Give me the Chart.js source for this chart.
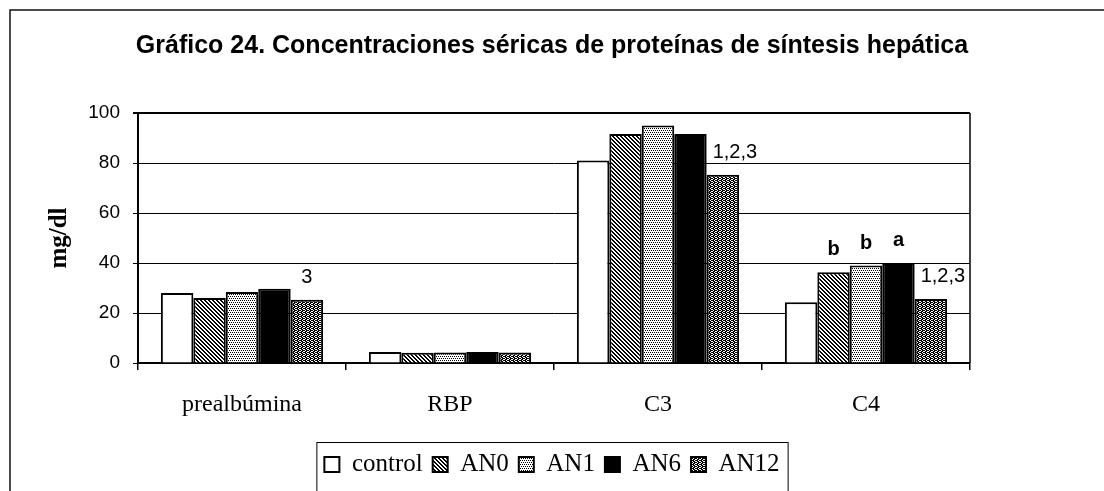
<!DOCTYPE html>
<html>
<head>
<meta charset="utf-8">
<script src="https://cdn.jsdelivr.net/npm/chart.js@4"></script>
<style>
  html, body { margin: 0; padding: 0; background: #fff; }
  canvas { display: block; }
</style>
</head>
<body>
<canvas id="proteinChart" width="1104" height="491"></canvas>
<script>
// categories and series
const categories = ["prealbúmina", "RBP", "C3", "C4"];
const seriesNames = ["control", "AN0", "AN1", "AN6", "AN12"];

// mg/dl per group
const controlValues = [28, 4.4, 81, 24.3];
const an0Values = [26, 4.1, 91.6, 36.3];
const an1Values = [28.4, 4.2, 95, 39];
const an6Values = [29.7, 4.4, 91.6, 40];
const an12Values = [25.3, 4.2, 75.3, 25.6];

// significance marks above the bars
const controlNotes = ["", "", "", ""];
const an0Notes = ["", "", "", "b"];
const an1Notes = ["", "", "", "b"];
const an6Notes = ["", "", "", "a"];
const an12Notes = ["3", "", "1,2,3", "1,2,3"];

const yTicks = [0, 20, 40, 60, 80, 100];

// fill patterns (1 = black pixel)
function makePattern(rows) {
  const c = document.createElement("canvas");
  c.width = rows[0].length;
  c.height = rows.length;
  const g = c.getContext("2d");
  g.fillStyle = "#fff";
  g.fillRect(0, 0, c.width, c.height);
  g.fillStyle = "#000";
  rows.forEach((row, y) => {
    for (let x = 0; x < row.length; x++) {
      if (row[x] === "1") g.fillRect(x, y, 1, 1);
    }
  });
  return g.createPattern(c, "repeat");
}

const hatch = makePattern(["1100", "0110", "0011", "1001"]);
const lightDots = makePattern(["1010", "0000", "0101", "0000"]);
const denseWeave = makePattern(["1101", "0110", "1011", "0110"]);

const fills = ["#ffffff", hatch, lightDots, "#000000", denseWeave];
const values = [controlValues, an0Values, an1Values, an6Values, an12Values];
const notes = [controlNotes, an0Notes, an1Notes, an6Notes, an12Notes];

// white page with the scanned frame on the left and top
const framePlugin = {
  id: "frame",
  beforeDraw(chart) {
    const c = chart.ctx;
    c.save();
    c.fillStyle = "#fff";
    c.fillRect(0, 0, chart.width, chart.height);
    c.strokeStyle = "#111";
    c.lineWidth = 1.5;
    c.beginPath();
    c.moveTo(10, chart.height);
    c.lineTo(10, 10);
    c.lineTo(chart.width, 10);
    c.stroke();
    c.restore();
  },
  afterDraw(chart) {
    const c = chart.ctx;
    const a = chart.chartArea;
    c.save();
    c.strokeStyle = "#000";
    c.lineWidth = 1.5;
    c.beginPath();
    c.moveTo(a.right, a.top);
    c.lineTo(a.right, a.bottom);
    c.stroke();

    // box round the legend
    const boxes = chart.legend.legendHitBoxes;
    if (boxes && boxes.length) {
      const first = boxes[0];
      const last = boxes[boxes.length - 1];
      const left = first.left - 8;
      const right = last.left + last.width + 8;
      const top = first.top - 10;
      c.lineWidth = 1;
      c.strokeRect(left + 0.5, top + 0.5, right - left, chart.height - top + 5);
    }
    c.restore();
  },
};

// letters above bars in bold, group numbers in plain type
const notesPlugin = {
  id: "barNotes",
  afterDatasetsDraw(chart) {
    const c = chart.ctx;
    c.save();
    c.fillStyle = "#000";
    c.textBaseline = "alphabetic";
    chart.data.datasets.forEach((ds, di) => {
      const meta = chart.getDatasetMeta(di);
      meta.data.forEach((bar, i) => {
        const text = ds.notes[i];
        if (!text) return;
        const isLetter = /^[a-z]$/.test(text);
        c.font = (isLetter ? "bold " : "") + "20px 'Liberation Sans', Arial, sans-serif";
        if (text.length > 1) {
          c.textAlign = "left";
          c.fillText(text, bar.x - bar.width / 2 + 6, bar.y - 17);
        } else {
          c.textAlign = "center";
          c.fillText(text, bar.x, bar.y - 17);
        }
      });
    });
    c.restore();
  },
};

const ctx = document.getElementById("proteinChart").getContext("2d");

new Chart(ctx, {
  type: "bar",
  data: {
    labels: categories,
    datasets: seriesNames.map((name, i) => ({
      label: name,
      data: values[i],
      notes: notes[i],
      backgroundColor: fills[i],
      borderColor: "#000",
      borderWidth: 2,
      categoryPercentage: 0.78,
      barPercentage: 1.0,
    })),
  },
  options: {
    responsive: false,
    animation: false,
    layout: { padding: { left: 0, right: 0, top: 0, bottom: 4 } },
    plugins: {
      title: {
        display: true,
        text: "Gráfico 24. Concentraciones séricas de proteínas de síntesis hepática",
        color: "#000",
        font: { family: "'Liberation Sans', Arial, sans-serif", size: 25, weight: "bold" },
        padding: { top: 31, bottom: 52 },
      },
      legend: {
        position: "bottom",
        labels: {
          color: "#000",
          font: { family: "'Liberation Serif', 'Times New Roman', serif", size: 25 },
          boxWidth: 15,
          boxHeight: 15,
          padding: 10,
        },
      },
      tooltip: { enabled: false },
    },
    scales: {
      x: {
        grid: {
          display: true,
          drawOnChartArea: false,
          drawTicks: true,
          tickLength: 7,
          color: "#000",
          lineWidth: 1.5,
        },
        border: { display: true, color: "#000", width: 1.5 },
        ticks: {
          color: "#000",
          padding: 20,
          font: { family: "'Liberation Serif', 'Times New Roman', serif", size: 24 },
        },
        afterFit(scale) {
          scale.height = 79;
        },
      },
      y: {
        min: 0,
        max: 100,
        afterBuildTicks(scale) {
          scale.ticks = yTicks.map((v) => ({ value: v }));
        },
        grid: {
          color: "#000",
          lineWidth: (c) => (c.tick && c.tick.value === 100 ? 2 : 1),
          tickLength: 5,
        },
        border: { display: true, color: "#000", width: 2 },
        ticks: {
          color: "#000",
          padding: 13,
          font: { family: "'Liberation Sans', Arial, sans-serif", size: 19 },
        },
        title: {
          display: true,
          text: "mg/dl",
          color: "#000",
          font: { family: "'Liberation Serif', 'Times New Roman', serif", size: 25, weight: "bold" },
          padding: { top: 45, bottom: 0 },
        },
        afterFit(scale) {
          scale.width = 138;
        },
      },
      // empty axis that keeps the plot clear of the right margin
      yRight: {
        position: "right",
        display: true,
        grid: { display: false },
        border: { display: false },
        ticks: { display: false },
        afterFit(scale) {
          scale.width = 134;
        },
      },
    },
  },
  plugins: [framePlugin, notesPlugin],
});
</script>
</body>
</html>
